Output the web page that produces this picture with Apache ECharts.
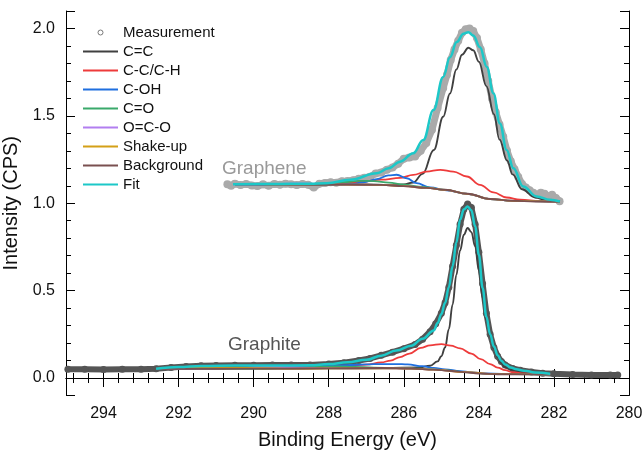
<!DOCTYPE html>
<html>
<head>
<meta charset="utf-8">
<script src="https://cdn.jsdelivr.net/npm/echarts@6/dist/echarts.min.js"></script>
<style>
  html, body { margin: 0; padding: 0; background: #fff; }
  #chart { width: 644px; height: 453px; }
</style>
</head>
<body>
<div id="chart"></div>
<script>
// ---- data: [binding energy (eV), intensity] ----
var legendNames = ["Measurement", "C=C", "C-C/C-H", "C-OH", "C=O", "O=C-O", "Shake-up", "Background", "Fit"];
var xTicks = [280, 282, 284, 286, 288, 290, 292, 294];
var yTicks = [0.0, 0.5, 1.0, 1.5, 2.0];

// Graphene (upper spectrum)
var gnMeas = [
  [290.70,1.108],[290.60,1.100],[290.50,1.112],[290.35,1.104],[290.20,1.110],[290.05,1.102],
  [289.90,1.098],[289.75,1.108],[289.60,1.100],[289.45,1.110],[289.30,1.106],[289.15,1.112],
  [289.00,1.108],[288.85,1.104],[288.70,1.110],[288.55,1.106],[288.40,1.090],[288.25,1.112],
  [288.10,1.116],[287.95,1.120],[287.80,1.118],[287.65,1.126],[287.50,1.128],[287.35,1.132],
  [287.20,1.140],[287.05,1.146],[286.90,1.152],[286.75,1.170],[286.60,1.176],[286.45,1.192],
  [286.30,1.205],[286.15,1.226],[286.00,1.255],[285.85,1.262],[285.70,1.268],[285.55,1.300],
  [285.40,1.345],[285.25,1.420],[285.10,1.545],[284.95,1.660],[284.85,1.735],[284.75,1.820],
  [284.65,1.880],[284.55,1.930],[284.45,1.975],[284.35,1.995],[284.25,2.000],[284.15,1.985],
  [284.05,1.945],[283.95,1.880],[283.85,1.800],[283.75,1.700],[283.65,1.600],[283.55,1.520],
  [283.45,1.450],[283.35,1.380],[283.25,1.300],[283.15,1.240],[283.05,1.195],[282.95,1.150],
  [282.85,1.110],[282.75,1.090],[282.65,1.075],[282.55,1.060],[282.45,1.048],[282.35,1.060],
  [282.25,1.055],[282.15,1.040],[282.05,1.048],[281.95,1.030],[281.85,1.012]
];
var gnCC = [
  [290.5,1.108],[287.0,1.107],[286.4,1.105],[286.0,1.108],[285.75,1.119],[285.5,1.168],
  [285.2,1.305],[284.95,1.495],[284.77,1.628],[284.6,1.765],[284.45,1.850],[284.28,1.890],
  [284.15,1.875],[284.0,1.810],[283.8,1.670],[283.6,1.510],[283.45,1.365],[283.25,1.245],
  [283.1,1.165],[282.85,1.080],[282.5,1.033],[282.2,1.016],[281.84,1.010]
];
var gnCH = [
  [290.5,1.108],[288.5,1.110],[287.5,1.116],[287.1,1.124],[286.6,1.135],[286.1,1.145],
  [285.75,1.162],[285.4,1.181],[285.03,1.191],[284.68,1.181],[284.32,1.153],[283.97,1.105],
  [283.61,1.062],[283.26,1.033],[282.9,1.020],[282.37,1.012],[281.84,1.009]
];
var gnCOH = [
  [290.5,1.108],[288.5,1.108],[287.8,1.108],[287.43,1.109],[287.08,1.119],[286.72,1.138],
  [286.41,1.160],[286.19,1.163],[285.92,1.143],[285.66,1.115],[285.3,1.090],[284.86,1.074],
  [284.3,1.054],[283.7,1.024],[283.1,1.014],[281.84,1.009]
];
var gnCO = [
  [290.5,1.108],[288.5,1.110],[288.0,1.113],[287.6,1.121],[287.2,1.128],[286.8,1.127],
  [286.4,1.118],[286.0,1.106],[285.5,1.094],[284.9,1.077],[284.3,1.054],[283.7,1.024],
  [283.1,1.014],[281.84,1.009]
];
var gnOCO = [
  [290.5,1.108],[289.4,1.110],[288.8,1.113],[288.2,1.110],[287.5,1.107],[286.6,1.105],
  [286.0,1.098],[285.4,1.088],[284.9,1.077],[284.3,1.054],[283.7,1.024],[283.1,1.014],[281.84,1.009]
];
var gnShake = [
  [290.5,1.110],[290.0,1.110],[289.5,1.108],[288.5,1.108],[287.5,1.107],[286.6,1.105],
  [286.0,1.098],[285.4,1.088],[284.9,1.077],[284.3,1.054],[283.7,1.024],[283.1,1.014],[281.84,1.009]
];
var gnBg = [
  [290.5,1.108],[289.0,1.108],[287.5,1.107],[286.6,1.105],[286.0,1.098],[285.4,1.088],
  [284.9,1.077],[284.3,1.054],[283.7,1.024],[283.1,1.014],[282.5,1.010],[281.84,1.009]
];
var gnFit = [
  [290.55,1.109],[289.5,1.110],[288.5,1.112],[288.05,1.115],[287.43,1.134],[286.72,1.172],
  [286.4,1.200],[286.1,1.238],[285.75,1.286],[285.48,1.362],[285.21,1.533],[284.95,1.723],
  [284.77,1.836],[284.59,1.922],[284.41,1.970],[284.28,1.979],[284.15,1.960],[283.97,1.893],
  [283.79,1.780],[283.61,1.628],[283.44,1.457],[283.26,1.305],[283.08,1.200],[282.82,1.096],
  [282.46,1.039],[282.1,1.020],[281.84,1.010]
];

// Graphite (lower spectrum)
var gtMeas = [
  [294.95,0.050],[294.5,0.050],[294.0,0.049],[293.5,0.050],[293.0,0.050],[292.6,0.053],
  [292.2,0.060],[291.8,0.066],[291.4,0.070],[291.0,0.072],[290.5,0.073],[290.0,0.073],
  [289.5,0.074],[289.0,0.074],[288.5,0.075],[288.0,0.080],[287.6,0.088],[287.2,0.100],
  [286.9,0.112],[286.6,0.130],[286.3,0.148],[286.0,0.168],[285.7,0.192],[285.5,0.222],
  [285.3,0.265],[285.15,0.310],[285.0,0.370],[284.9,0.430],[284.8,0.520],[284.7,0.640],
  [284.6,0.760],[284.5,0.880],[284.4,0.965],[284.3,0.995],[284.2,0.975],[284.1,0.880],
  [284.0,0.720],[283.9,0.540],[283.8,0.370],[283.7,0.250],[283.6,0.175],[283.5,0.125],
  [283.4,0.095],[283.3,0.075],[283.1,0.055],[282.9,0.045],[282.6,0.035],[282.3,0.028],
  [282.0,0.024],[281.5,0.020],[281.0,0.018],[280.5,0.017],[280.3,0.017]
];
var gtCC = [
  [292.6,0.051],[290.0,0.054],[288.0,0.055],[286.5,0.057],[285.6,0.060],[285.3,0.070],
  [285.1,0.095],[285.0,0.125],[284.9,0.175],[284.8,0.280],[284.7,0.420],[284.6,0.590],
  [284.5,0.730],[284.4,0.820],[284.3,0.858],[284.2,0.835],[284.1,0.754],[284.0,0.615],
  [283.9,0.460],[283.8,0.330],[283.7,0.241],[283.6,0.170],[283.5,0.120],[283.4,0.085],
  [283.3,0.062],[283.1,0.045],[282.9,0.036],[282.5,0.030],[282.1,0.026]
];
var gtCH = [
  [292.6,0.052],[291.0,0.056],[290.0,0.058],[289.3,0.061],[288.5,0.064],[287.5,0.070],
  [287.0,0.077],[286.6,0.089],[286.35,0.100],[286.1,0.120],[285.85,0.140],[285.55,0.172],
  [285.3,0.187],[285.0,0.194],[284.75,0.185],[284.5,0.170],[284.2,0.140],[283.95,0.108],
  [283.7,0.080],[283.5,0.060],[283.3,0.045],[283.1,0.033],[282.8,0.026],[282.1,0.022]
];
var gtCOH = [
  [292.6,0.052],[291.0,0.057],[290.0,0.060],[289.0,0.064],[288.0,0.070],[287.5,0.074],
  [287.0,0.078],[286.6,0.080],[286.2,0.080],[285.9,0.078],[285.5,0.068],[285.2,0.058],
  [284.9,0.050],[284.5,0.040],[284.2,0.032],[283.8,0.026],[283.0,0.022],[282.1,0.021]
];
var gtCO = [
  [292.6,0.051],[290.0,0.054],[289.0,0.058],[288.3,0.064],[287.8,0.066],[287.3,0.064],
  [286.8,0.060],[286.2,0.057],[285.6,0.054],[285.0,0.047],[284.4,0.034],[283.6,0.023],[282.1,0.021]
];
var gtOCO = [
  [292.6,0.051],[291.0,0.055],[290.2,0.060],[289.6,0.064],[289.0,0.062],[288.3,0.057],
  [287.5,0.056],[286.6,0.057],[285.8,0.054],[285.2,0.048],[284.4,0.034],[283.5,0.022],[282.1,0.021]
];
var gtShake = [
  [292.6,0.052],[291.8,0.058],[291.2,0.062],[290.6,0.060],[289.8,0.056],[289.0,0.054],
  [288.0,0.055],[286.6,0.057],[285.8,0.054],[285.2,0.048],[284.4,0.034],[283.5,0.022],[282.1,0.021]
];
var gtBg = [
  [292.6,0.051],[291.0,0.053],[289.5,0.054],[288.0,0.055],[286.6,0.057],[285.8,0.054],
  [285.2,0.048],[284.8,0.042],[284.4,0.034],[284.0,0.026],[283.5,0.022],[282.1,0.021]
];
var gtFit = [
  [292.6,0.053],[292.0,0.063],[291.4,0.069],[290.5,0.071],[289.5,0.071],[288.5,0.073],
  [288.0,0.080],[287.5,0.090],[287.0,0.104],[286.6,0.128],[286.2,0.158],[285.8,0.185],
  [285.5,0.225],[285.2,0.272],[285.1,0.315],[285.0,0.365],[284.9,0.430],[284.8,0.520],
  [284.7,0.640],[284.6,0.775],[284.5,0.905],[284.4,0.965],[284.3,0.982],[284.2,0.960],
  [284.1,0.868],[284.0,0.705],[283.9,0.515],[283.8,0.350],[283.7,0.250],[283.6,0.180],
  [283.5,0.130],[283.4,0.098],[283.3,0.078],[283.15,0.060],[283.0,0.050],[282.8,0.042],
  [282.5,0.032],[282.1,0.024]
];

var colors = {
  "C=C": "#404040", "C-C/C-H": "#ee3b3b", "C-OH": "#1f6fdf", "C=O": "#3aa96b",
  "O=C-O": "#b27ef0", "Shake-up": "#d4a017", "Background": "#7a5050", "Fit": "#1cc8c8"
};
var FONT = "Liberation Sans, Arial, Helvetica, sans-serif";

var chart = echarts.init(document.getElementById("chart"));

function isTick(list, v) {
  return list.some(function (t) { return Math.abs(t - v) < 1e-6; });
}

function xAx(pos, interval, len, main) {
  return {
    type: "value", position: pos, min: 280, max: 295, interval: interval, inverse: true,
    axisLine: { show: main, lineStyle: { color: "#000", width: 1 } },
    axisTick: { show: true, inside: true, length: len, lineStyle: { color: "#000" } },
    axisLabel: {
      show: main && pos === "bottom", margin: 10, fontSize: 16, color: "#111", fontFamily: FONT,
      formatter: function (v) { return isTick(xTicks, v) ? String(v) : ""; }
    },
    splitLine: { show: false }
  };
}

function yAx(pos, minor, main) {
  var a = {
    type: "value", position: pos, min: -0.1, max: 2.1,
    axisLine: { show: main, lineStyle: { color: "#000", width: 1 } },
    axisTick: { show: true, inside: true, length: minor ? 5 : 9, lineStyle: { color: "#000" } },
    axisLabel: {
      show: main && pos === "left", margin: 11, fontSize: 16, color: "#111", fontFamily: FONT,
      formatter: function (v) { return isTick(yTicks, v) ? v.toFixed(1) : ""; }
    },
    splitLine: { show: false }
  };
  if (minor) a.interval = 0.1; else a.splitNumber = 5;
  return a;
}

var xAxes = [xAx("bottom", 2, 9, true), xAx("bottom", 0.4, 5, false), xAx("top", 2, 9, true), xAx("top", 0.4, 5, false)];
xAxes[0].name = "Binding Energy (eV)";
xAxes[0].nameLocation = "middle";
xAxes[0].nameGap = 35;
xAxes[0].nameTextStyle = { fontSize: 20, color: "#111", fontFamily: FONT };

var yAxes = [yAx("left", false, true), yAx("left", true, false), yAx("right", false, true), yAx("right", true, false)];
yAxes[0].name = "Intensity (CPS)";
yAxes[0].nameLocation = "middle";
yAxes[0].nameGap = 37;
yAxes[0].nameTextStyle = { fontSize: 20, color: "#111", fontFamily: FONT };

function comp(name, data, width) {
  return {
    name: name, type: "line", data: data, symbol: "none",
    smooth: 0.4, smoothMonotone: "x",
    lineStyle: { color: colors[name], width: width || 1.8 },
    itemStyle: { color: colors[name] },
    z: name === "Fit" ? 5 : 3
  };
}

function meas(data, color, size) {
  return {
    name: "Measurement", type: "line", data: data,
    symbol: "circle", symbolSize: size, showSymbol: true, showAllSymbol: true,
    lineStyle: { color: color, width: size - 1 },
    itemStyle: { color: color },
    z: 2
  };
}

var series = [meas(gnMeas, "#aaaaaa", 8), meas(gtMeas, "#555555", 7)];
[
  ["C=C", gnCC, gtCC, 1.9], ["C-C/C-H", gnCH, gtCH], ["C-OH", gnCOH, gtCOH], ["C=O", gnCO, gtCO],
  ["O=C-O", gnOCO, gtOCO], ["Shake-up", gnShake, gtShake], ["Background", gnBg, gtBg, 1.9],
  ["Fit", gnFit, gtFit, 2.5]
].forEach(function (c) {
  series.push(comp(c[0], c[1], c[3]));
  series.push(comp(c[0], c[2], c[3]));
});

var lineIcon = "path://M0 0H35V2.2H0Z";
var legendData = legendNames.map(function (n) {
  if (n === "Measurement") {
    return { name: n, icon: "circle", itemStyle: { color: "#fff", borderColor: "#777", borderWidth: 1 } };
  }
  return { name: n, icon: lineIcon, itemStyle: { color: colors[n], borderWidth: 0 } };
});

chart.setOption({
  animation: false,
  grid: { left: 66, right: 15, top: 11, bottom: 57.5, outerBoundsMode: "none", containLabel: false },
  legend: {
    orient: "vertical", left: 83, top: 25, padding: 0, itemWidth: 35, itemHeight: 5, itemGap: 4,
    selectedMode: false,
    textStyle: { fontSize: 15, color: "#111", fontFamily: FONT, lineHeight: 15 },
    data: legendData
  },
  xAxis: xAxes,
  yAxis: yAxes,
  graphic: [
    { type: "text", left: 222, top: 159, style: { text: "Graphene", fontSize: 19, fill: "#999", fontFamily: FONT } },
    { type: "text", left: 228, top: 335, style: { text: "Graphite", fontSize: 19, fill: "#555", fontFamily: FONT } }
  ],
  series: series
});
</script>
</body>
</html>
